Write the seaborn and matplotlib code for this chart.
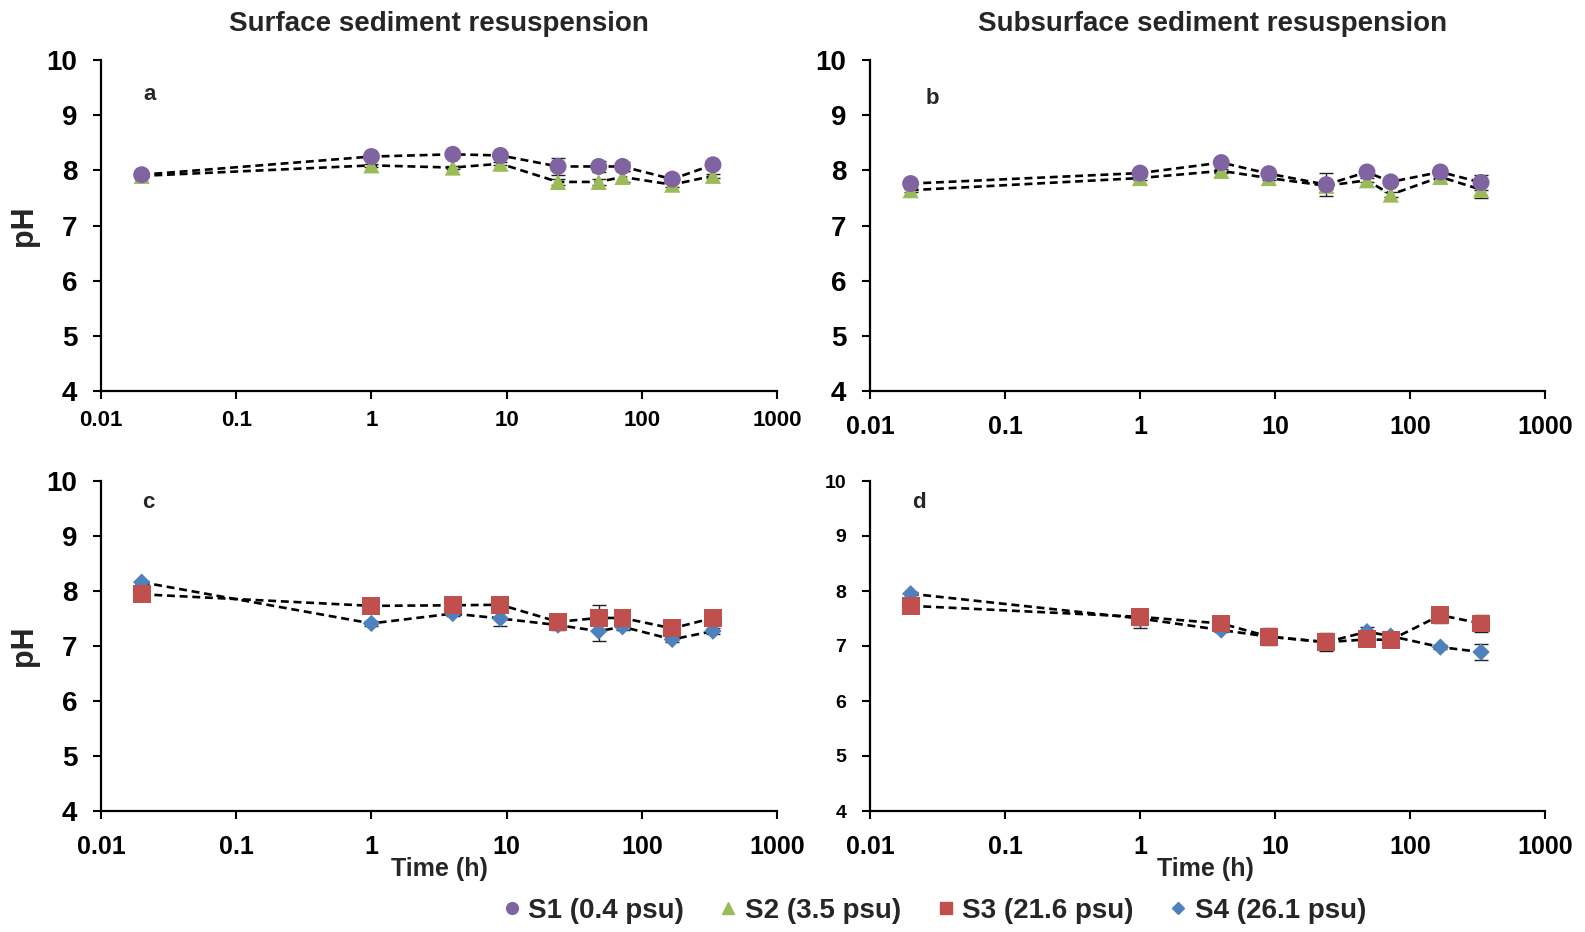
import numpy as np
import pandas as pd
import matplotlib
matplotlib.use("Agg")
import matplotlib.pyplot as plt
from matplotlib.lines import Line2D
import seaborn as sns

# Sampling times (h)
time_h = [0.02, 1, 4, 9, 24, 48, 72, 168, 336]

# Surface sediment resuspension: pH (mean) and standard deviation
surf_S1 = [7.92, 8.25, 8.29, 8.27, 8.07, 8.07, 8.07, 7.84, 8.10]
surf_S1_sd = [0.02, 0.03, 0.03, 0.03, 0.15, 0.10, 0.08, 0.05, 0.04]
surf_S2 = [7.90, 8.09, 8.05, 8.12, 7.79, 7.79, 7.88, 7.74, 7.90]
surf_S2_sd = [0.02, 0.03, 0.03, 0.03, 0.05, 0.05, 0.10, 0.05, 0.04]
surf_S3 = [7.94, 7.73, 7.74, 7.75, 7.44, 7.51, 7.51, 7.32, 7.51]
surf_S3_sd = [0.03, 0.04, 0.04, 0.04, 0.08, 0.24, 0.05, 0.15, 0.04]
surf_S4 = [8.16, 7.41, 7.59, 7.50, 7.38, 7.27, 7.35, 7.12, 7.27]
surf_S4_sd = [0.03, 0.04, 0.04, 0.13, 0.09, 0.17, 0.05, 0.05, 0.05]

# Subsurface sediment resuspension
sub_S1 = [7.76, 7.95, 8.14, 7.94, 7.74, 7.97, 7.79, 7.97, 7.78]
sub_S1_sd = [0.03, 0.03, 0.03, 0.03, 0.21, 0.04, 0.04, 0.04, 0.14]
sub_S2 = [7.64, 7.86, 7.99, 7.86, 7.72, 7.82, 7.56, 7.88, 7.65]
sub_S2_sd = [0.03, 0.03, 0.03, 0.03, 0.05, 0.04, 0.05, 0.04, 0.16]
sub_S3 = [7.73, 7.53, 7.41, 7.17, 7.07, 7.12, 7.11, 7.56, 7.41]
sub_S3_sd = [0.04, 0.14, 0.05, 0.16, 0.16, 0.05, 0.05, 0.15, 0.16]
sub_S4 = [7.95, 7.50, 7.29, 7.17, 7.07, 7.26, 7.18, 6.98, 6.89]
sub_S4_sd = [0.03, 0.18, 0.04, 0.05, 0.05, 0.08, 0.04, 0.04, 0.15]

series_names = ["S1 (0.4 psu)", "S2 (3.5 psu)", "S3 (21.6 psu)", "S4 (26.1 psu)"]
series_colors = ["#8064A2", "#9BBB59", "#C0504D", "#4F81BD"]
series_markers = ["o", "^", "s", "D"]
series_sizes = [150, 135, 165, 78]

panel_titles = ["Surface sediment resuspension", "Subsurface sediment resuspension"]
x_ticks = [0.01, 0.1, 1, 10, 100, 1000]
x_tick_labels = ["0.01", "0.1", "1", "10", "100", "1000"]
y_ticks = [4, 5, 6, 7, 8, 9, 10]

sns.set_theme(style="ticks")
plt.rcParams["font.family"] = ["Liberation Sans", "DejaVu Sans"]
plt.rcParams["font.weight"] = "bold"

W, H = 1585, 932
fig = plt.figure(figsize=(W / 100, H / 100), dpi=100)


def axes_px(left, top, right, bottom):
    return fig.add_axes([left / W, 1 - bottom / H, (right - left) / W, (bottom - top) / H])


ax_a = axes_px(101, 60, 777, 391)
ax_b = axes_px(870, 60, 1545, 391)
ax_c = axes_px(101, 481, 777, 811)
ax_d = axes_px(870, 481, 1545, 811)

panels = [
    (ax_a, [(0, surf_S1, surf_S1_sd), (1, surf_S2, surf_S2_sd)], "a", (0.072, 0.897), 16, 20, 8),
    (ax_b, [(0, sub_S1, sub_S1_sd), (1, sub_S2, sub_S2_sd)], "b", (0.092, 0.885), 18, 20, 11),
    (ax_c, [(2, surf_S3, surf_S3_sd), (3, surf_S4, surf_S4_sd)], "c", (0.07, 0.936), 18, 20, 11),
    (ax_d, [(2, sub_S3, sub_S3_sd), (3, sub_S4, sub_S4_sd)], "d", (0.073, 0.936), 18, 14, 11),
]

for ax, series, letter, letter_pos, xfs, yfs, xpad in panels:
    # dashed connecting lines
    for idx, vals, sd in series:
        df = pd.DataFrame({"time": time_h, "pH": vals})
        sns.lineplot(data=df, x="time", y="pH", ax=ax, color="black", lw=1.9,
                     estimator=None, sort=False, zorder=1,
                     linestyle=(0, (3.0, 1.8)))
    # error bars
    for idx, vals, sd in series:
        ax.errorbar(time_h, vals, yerr=sd, fmt="none", ecolor="#222222",
                    elinewidth=1.0, capsize=5, capthick=1.0, zorder=2)
    # markers: second series drawn first so the first sits on top
    for order, (idx, vals, sd) in enumerate(reversed(series)):
        df = pd.DataFrame({"time": time_h, "pH": vals})
        sns.scatterplot(data=df, x="time", y="pH", ax=ax, color=series_colors[idx],
                        marker=series_markers[idx], s=series_sizes[idx],
                        edgecolor="none", linewidth=0, zorder=3 + order)

    ax.set_xscale("log")
    ax.set_xlim(0.01, 1000)
    ax.set_ylim(4, 10)
    ax.set_xticks(x_ticks)
    ax.set_xticklabels(x_tick_labels)
    ax.minorticks_off()
    ax.set_yticks(y_ticks)
    ax.set_xlabel("")
    ax.set_ylabel("")
    for lab in ax.get_xticklabels():
        lab.set_fontsize(xfs)
        lab.set_fontweight("bold")
    for lab in ax.get_yticklabels():
        lab.set_fontsize(yfs)
        lab.set_fontweight("bold")
    ax.tick_params(axis="x", direction="out", length=6, width=1.5, pad=xpad, colors="black")
    ax.tick_params(axis="y", direction="out", length=6, width=1.5, pad=11, colors="black")
    sns.despine(ax=ax)
    for side in ("left", "bottom"):
        ax.spines[side].set_linewidth(1.6)
        ax.spines[side].set_color("black")
    ax.text(letter_pos[0], letter_pos[1], letter, transform=ax.transAxes,
            fontsize=16, fontweight="bold", ha="center", va="center")

# column titles
ax_a.text(0.5, 1.11, panel_titles[0], transform=ax_a.transAxes,
          fontsize=20, fontweight="bold", ha="center", va="center")
ax_b.text(0.508, 1.11, panel_titles[1], transform=ax_b.transAxes,
          fontsize=20, fontweight="bold", ha="center", va="center")

# y labels
for ax in (ax_a, ax_c):
    ax.set_ylabel("pH", fontsize=22, fontweight="bold")
    ax.yaxis.set_label_coords(-0.092, 0.5)

# x labels
for ax, xc in ((ax_c, 0.5), (ax_d, 0.497)):
    ax.text(xc, -0.177, "Time (h)", transform=ax.transAxes,
            fontsize=18, fontweight="bold", ha="center", va="center")

# shared legend
handles = [Line2D([], [], linestyle="none", marker=m, color=c, markersize=ms)
           for m, c, ms in zip(series_markers, series_colors, [8.5, 8, 8.5, 6.5])]
leg = fig.legend(handles, series_names, loc="center", bbox_to_anchor=(932 / W, 1 - 911 / H),
                 ncol=4, frameon=False, handletextpad=0.1, columnspacing=1.1,
                 handlelength=1.0, prop={"weight": "bold", "size": 20})

fig.savefig("out.png", dpi=100)
